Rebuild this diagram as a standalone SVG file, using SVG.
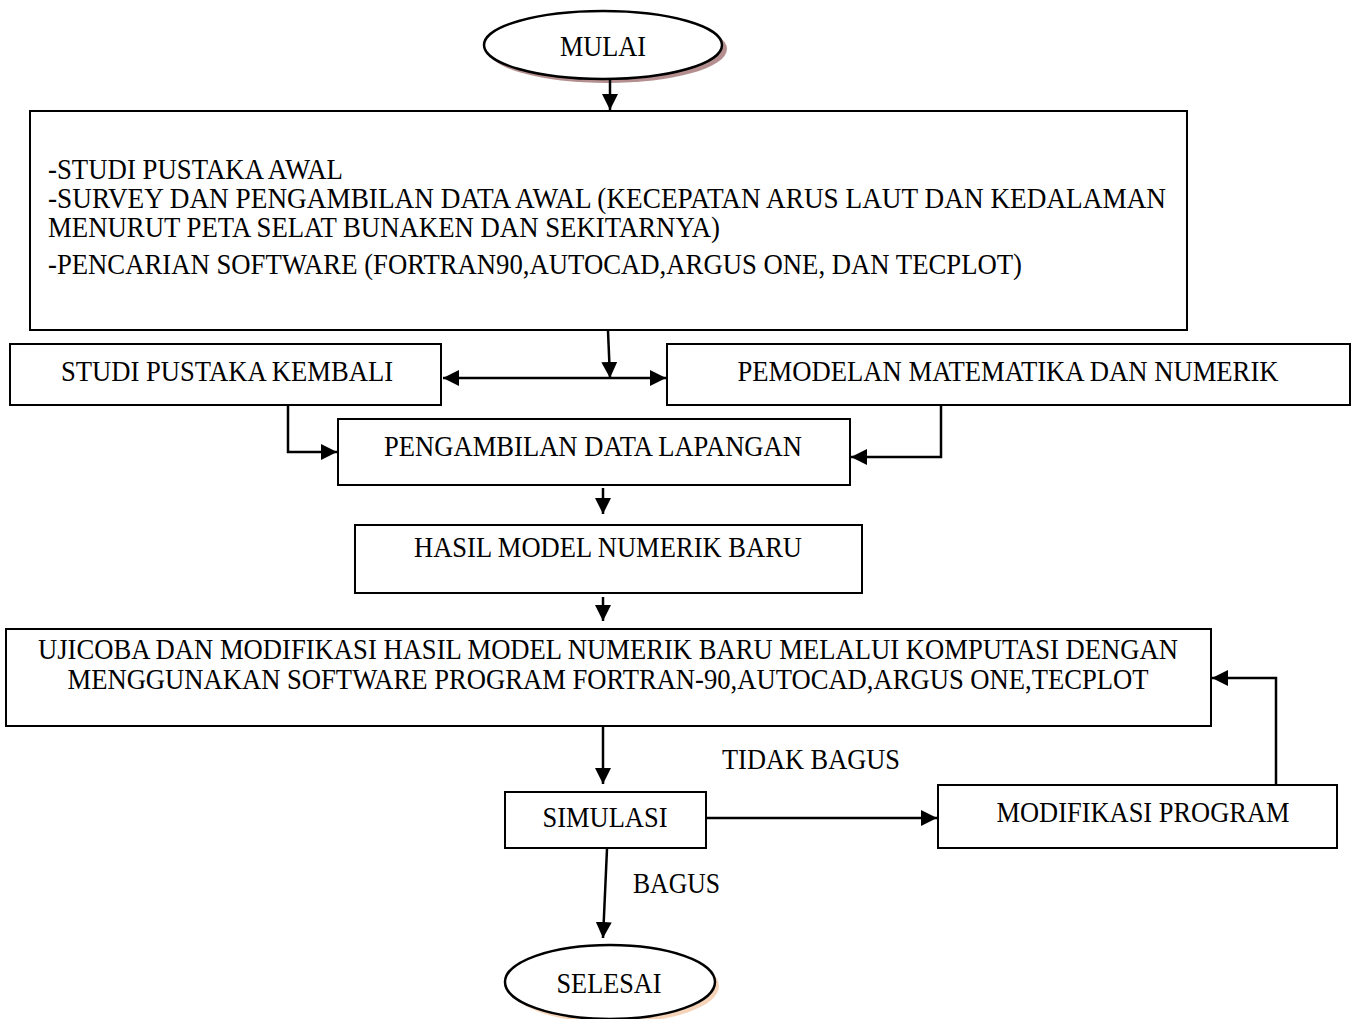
<svg xmlns="http://www.w3.org/2000/svg" width="1359" height="1019" viewBox="0 0 1359 1019">
<defs>
<style>
.box{fill:#fff;stroke:#000;stroke-width:2}
.ov{fill:#fff;stroke:#000;stroke-width:2.5}
.ln{fill:none;stroke:#000;stroke-width:2.5}
text{font-family:"Liberation Serif","Times New Roman",serif;font-size:29px;fill:#000}
</style>
<marker id="a" viewBox="0 0 16 16" refX="16" refY="8" markerWidth="16" markerHeight="16" markerUnits="userSpaceOnUse" orient="auto-start-reverse">
<path d="M0,0 L16,8 L0,16 z" fill="#000"/>
</marker>
</defs>
<rect width="1359" height="1019" fill="#fff"/>

<g id="mulai">
<ellipse cx="607" cy="49" rx="120" ry="34" fill="#9c6a6a" opacity="0.75"/>
<ellipse cx="603" cy="45" rx="119" ry="34" class="ov"/>
<text x="603" y="56" text-anchor="middle" textLength="86" lengthAdjust="spacingAndGlyphs">MULAI</text>
</g>

<g id="awal">
<rect x="30" y="111" width="1157" height="219" class="box"/>
<text x="48" y="179" textLength="295" lengthAdjust="spacingAndGlyphs">-STUDI PUSTAKA AWAL</text>
<text x="48" y="208" textLength="1118" lengthAdjust="spacingAndGlyphs">-SURVEY DAN PENGAMBILAN DATA AWAL (KECEPATAN ARUS LAUT DAN KEDALAMAN</text>
<text x="48" y="237" textLength="672" lengthAdjust="spacingAndGlyphs">MENURUT PETA SELAT BUNAKEN DAN SEKITARNYA)</text>
<text x="48" y="274" textLength="974" lengthAdjust="spacingAndGlyphs">-PENCARIAN SOFTWARE (FORTRAN90,AUTOCAD,ARGUS ONE, DAN TECPLOT)</text>
</g>

<g id="studi-kembali">
<rect x="10" y="344" width="431" height="61" class="box"/>
<text x="227" y="381" text-anchor="middle" textLength="332" lengthAdjust="spacingAndGlyphs">STUDI PUSTAKA KEMBALI</text>
</g>

<g id="pemodelan">
<rect x="667" y="344" width="683" height="61" class="box"/>
<text x="1008" y="381" text-anchor="middle" textLength="541" lengthAdjust="spacingAndGlyphs">PEMODELAN MATEMATIKA DAN NUMERIK</text>
</g>

<g id="pengambilan">
<rect x="338" y="419" width="512" height="66" class="box"/>
<text x="593" y="456" text-anchor="middle" textLength="418" lengthAdjust="spacingAndGlyphs">PENGAMBILAN DATA LAPANGAN</text>
</g>

<g id="hasil">
<rect x="355" y="525" width="507" height="68" class="box"/>
<text x="608" y="557" text-anchor="middle" textLength="388" lengthAdjust="spacingAndGlyphs">HASIL MODEL NUMERIK BARU</text>
</g>

<g id="ujicoba">
<rect x="6" y="629" width="1205" height="97" class="box"/>
<text x="608" y="659" text-anchor="middle" textLength="1140" lengthAdjust="spacingAndGlyphs">UJICOBA DAN MODIFIKASI HASIL MODEL NUMERIK BARU MELALUI KOMPUTASI DENGAN</text>
<text x="608" y="689" text-anchor="middle" textLength="1081" lengthAdjust="spacingAndGlyphs">MENGGUNAKAN SOFTWARE PROGRAM FORTRAN-90,AUTOCAD,ARGUS ONE,TECPLOT</text>
</g>

<g id="simulasi">
<rect x="505" y="792" width="201" height="56" class="box"/>
<text x="605" y="827" text-anchor="middle" textLength="125" lengthAdjust="spacingAndGlyphs">SIMULASI</text>
</g>

<g id="modifikasi">
<rect x="938" y="785" width="399" height="63" class="box"/>
<text x="1143" y="822" text-anchor="middle" textLength="293" lengthAdjust="spacingAndGlyphs">MODIFIKASI PROGRAM</text>
</g>

<g id="selesai">
<ellipse cx="614" cy="986" rx="105" ry="37" fill="#f4c9a8" opacity="0.8"/>
<ellipse cx="610" cy="982" rx="105" ry="37" class="ov"/>
<text x="609" y="993" text-anchor="middle" textLength="105" lengthAdjust="spacingAndGlyphs">SELESAI</text>
</g>

<g id="labels">
<text x="722" y="769" textLength="178" lengthAdjust="spacingAndGlyphs">TIDAK BAGUS</text>
<text x="633" y="893" textLength="87" lengthAdjust="spacingAndGlyphs">BAGUS</text>
</g>

<g id="connectors">
<line x1="610" y1="80" x2="610" y2="110" class="ln" marker-end="url(#a)"/>
<line x1="608" y1="331" x2="610" y2="378" class="ln" marker-end="url(#a)"/>
<line x1="443" y1="378" x2="666" y2="378" class="ln" marker-start="url(#a)" marker-end="url(#a)"/>
<polyline points="288,405 288,452 337,452" class="ln" marker-end="url(#a)"/>
<polyline points="941,405 941,457 851,457" class="ln" marker-end="url(#a)"/>
<line x1="603" y1="488" x2="603" y2="514" class="ln" marker-end="url(#a)"/>
<line x1="603" y1="597" x2="603" y2="621" class="ln" marker-end="url(#a)"/>
<line x1="603" y1="727" x2="603" y2="784" class="ln" marker-end="url(#a)"/>
<line x1="706" y1="818" x2="937" y2="818" class="ln" marker-end="url(#a)"/>
<polyline points="1276,785 1276,678 1212,678" class="ln" marker-end="url(#a)"/>
<line x1="607" y1="849" x2="603" y2="938" class="ln" marker-end="url(#a)"/>
</g>
</svg>
